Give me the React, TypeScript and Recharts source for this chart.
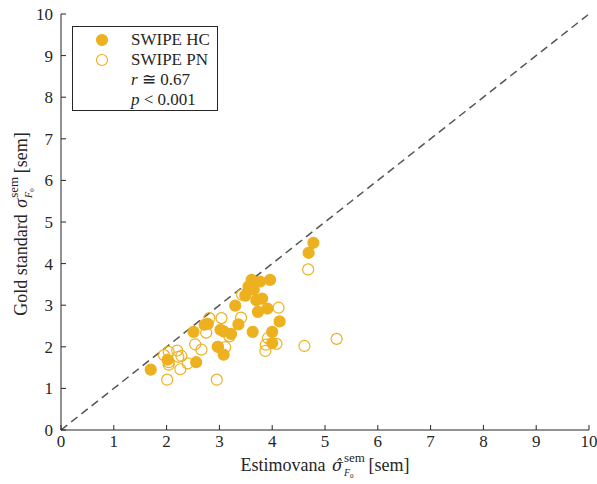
import React from 'react';
import { ScatterChart, Scatter, XAxis, YAxis, ReferenceLine, Legend } from 'recharts';

// SWIPE HC (filled)
const hcEst = [1.70, 2.02, 2.51, 2.56, 2.72, 2.78, 2.97, 3.02, 3.08, 3.08, 3.22, 3.30, 3.36, 3.49, 3.55, 3.61, 3.65, 3.63, 3.70, 3.73, 3.77, 3.81, 3.91, 3.96, 4.00, 4.00, 4.14, 4.69, 4.78];
const hcGold = [1.45, 1.69, 2.36, 1.63, 2.53, 2.55, 2.00, 2.41, 2.37, 1.81, 2.31, 2.99, 2.54, 3.23, 3.45, 3.61, 3.37, 2.36, 3.12, 2.84, 3.57, 3.16, 2.92, 3.61, 2.36, 2.09, 2.61, 4.26, 4.50];

// SWIPE PN (open)
const pnEst = [1.95, 2.04, 2.20, 2.04, 2.04, 2.22, 2.28, 2.26, 2.40, 2.01, 2.54, 2.66, 2.75, 2.81, 2.95, 2.97, 3.04, 3.11, 3.19, 3.41, 3.43, 3.87, 3.88, 3.92, 4.08, 4.12, 4.61, 4.68, 5.22];
const pnGold = [1.80, 1.88, 1.91, 1.63, 1.57, 1.76, 1.78, 1.46, 1.60, 1.21, 2.06, 1.93, 2.34, 2.69, 1.21, 2.00, 2.69, 1.99, 2.25, 2.70, 3.25, 1.90, 2.05, 2.21, 2.07, 2.94, 2.02, 3.86, 2.19];

const axisTicks = [0, 1, 2, 3, 4, 5, 6, 7, 8, 9, 10];
const seriesNames = ['SWIPE HC', 'SWIPE PN'];

const ORANGE = '#EDB120';
const AXIS = '#262626';
const FONT = '"Liberation Serif", "Times New Roman", serif';

const hcData = hcEst.map((x, i) => ({ x, y: hcGold[i] }));
const pnData = pnEst.map((x, i) => ({ x, y: pnGold[i] }));

const makeDot = (filled: boolean) => (p: any) => (
  <circle cx={p.cx} cy={p.cy} r={5.5} fill={filled ? ORANGE : 'none'} stroke={ORANGE} strokeWidth={1.2} />
);

// sigma with sup "sem" and sub F_0, optional hat
const sigmaParts = (hat: boolean) => [
  hat ? (
    <tspan key="s" fontStyle="italic" dx={2} fontFamily='"DejaVu Serif", serif' fontSize={16}>σ̂</tspan>
  ) : (
    <tspan key="s" fontStyle="italic" dx={2}>σ</tspan>
  ),
  <tspan key="sup" dx={1} dy={-9} fontSize={13}>sem</tspan>,
  <tspan key="f" dx={-21} dy={14} fontSize={10} fontStyle="italic">F</tspan>,
  <tspan key="z" dy={2} fontSize={7}>0</tspan>,
  <tspan key="u" dx={15} dy={-7}>[sem]</tspan>,
];

const XLabel = (props: any) => {
  const vb = props.viewBox || {};
  const cx = vb.x + vb.width / 2;
  return (
    <text x={cx} y={471} textAnchor="middle" fontFamily={FONT} fontSize={18} fill={AXIS}>
      Estimovana {sigmaParts(true)}
    </text>
  );
};

const YLabel = () => (
  <text transform="translate(27,224) rotate(-90)" textAnchor="middle" fontFamily={FONT} fontSize={18} fill={AXIS}>
    Gold standard {sigmaParts(false)}
  </text>
);

const LegendBox = () => (
  <div
    style={{
      border: `1px solid ${AXIS}`,
      background: '#fff',
      width: 146,
      height: 85,
      boxSizing: 'border-box',
      fontFamily: FONT,
      fontSize: 17,
      color: AXIS,
      position: 'relative',
    }}
  >
    {[0, 1].map((i) => (
      <div key={i} style={{ position: 'absolute', left: 0, top: 3 + i * 20, height: 20, display: 'flex', alignItems: 'center' }}>
        <svg width={58} height={20}>
          <circle cx={29} cy={10} r={5.5} fill={i === 0 ? ORANGE : 'none'} stroke={ORANGE} strokeWidth={1.2} />
        </svg>
        <span>{seriesNames[i]}</span>
      </div>
    ))}
    <div style={{ position: 'absolute', left: 58, top: 43, lineHeight: '20px' }}>
      <i>r</i> ≅ 0.67
    </div>
    <div style={{ position: 'absolute', left: 58, top: 63, lineHeight: '20px' }}>
      <i>p</i> &lt; 0.001
    </div>
  </div>
);

export default function App() {
  return (
    <div style={{ position: 'absolute', left: 0, top: 0, background: '#fff' }}>
      <ScatterChart width={597} height={484} margin={{ top: 14, right: 8, bottom: 0, left: 0 }}>
        <XAxis
          type="number"
          dataKey="x"
          domain={[0, 10]}
          ticks={axisTicks}
          interval={0}
          height={54}
          tickSize={-5}
          tickMargin={10}
          stroke={AXIS}
          tick={{ fill: AXIS, fontFamily: FONT, fontSize: 17 }}
          label={XLabel}
          allowDataOverflow
        />
        <YAxis
          type="number"
          dataKey="y"
          domain={[0, 10]}
          ticks={axisTicks}
          interval={0}
          width={61}
          tickSize={-5}
          tickMargin={13}
          stroke={AXIS}
          tick={{ fill: AXIS, fontFamily: FONT, fontSize: 17 }}
          label={YLabel}
          allowDataOverflow
        />
        <ReferenceLine
          segment={[{ x: 0, y: 0 }, { x: 10, y: 10 }]}
          stroke="#555"
          strokeWidth={1.5}
          strokeDasharray="8 5"
          ifOverflow="visible"
        />
        <Scatter name={seriesNames[0]} data={hcData} shape={makeDot(true)} isAnimationActive={false} />
        <Scatter name={seriesNames[1]} data={pnData} shape={makeDot(false)} isAnimationActive={false} />
        <Legend
          layout="vertical"
          align="center"
          verticalAlign="middle"
          content={() => <LegendBox />}
          wrapperStyle={{ position: 'absolute', left: 72, top: 26, width: 146, height: 85 }}
        />
      </ScatterChart>
    </div>
  );
}
